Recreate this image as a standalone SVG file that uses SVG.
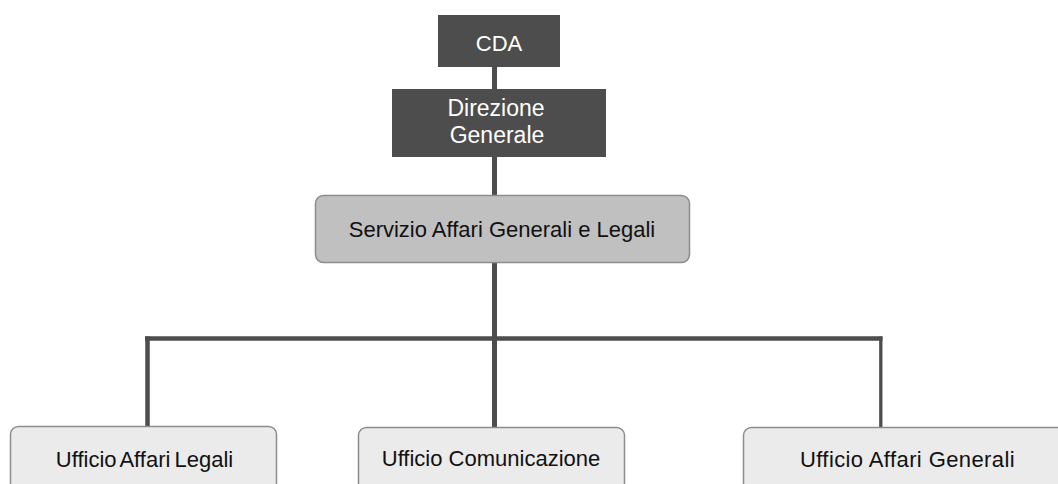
<svg xmlns="http://www.w3.org/2000/svg" width="1058" height="484" viewBox="0 0 1058 484">
  <style>
    .dark { fill: #4d4d4d; }
    .mid { fill: #c0c0c0; stroke: #8c8c8c; stroke-width: 1.5; }
    .light { fill: #ebebeb; stroke: #8c8c8c; stroke-width: 1.5; }
    .wt { fill: #ffffff; font-family: "Liberation Sans", Arial, sans-serif; text-anchor: middle; }
    .bt { fill: #111111; font-family: "Liberation Sans", Arial, sans-serif; text-anchor: middle; }
    .ln { stroke: #4d4d4d; fill: none; }
  </style>
  <rect width="1058" height="484" fill="#ffffff"/>

  <!-- connectors -->
  <g id="connectors" class="ln">
    <line x1="494.5" y1="66" x2="494.5" y2="90" stroke-width="5"/>
    <line x1="494.5" y1="156" x2="494.5" y2="196" stroke-width="5"/>
    <line x1="494.5" y1="262" x2="494.5" y2="428" stroke-width="5"/>
    <line x1="145" y1="338.5" x2="882.5" y2="338.5" stroke-width="4.5"/>
    <line x1="147.5" y1="336.5" x2="147.5" y2="427" stroke-width="4.5"/>
    <line x1="880.8" y1="336.5" x2="880.8" y2="435" stroke-width="3.3"/>
  </g>

  <!-- top level -->
  <g id="cda">
    <rect class="dark" x="438" y="15" width="122" height="52"/>
    <text class="wt" x="499" y="51" font-size="22">CDA</text>
  </g>

  <g id="direzione-generale">
    <rect class="dark" x="392" y="89" width="214" height="68"/>
    <text class="wt" x="496" y="116" font-size="23">Direzione</text>
    <text class="wt" x="497" y="143" font-size="23">Generale</text>
  </g>

  <g id="servizio-affari-generali-legali">
    <rect class="mid" x="315.5" y="195.5" width="374" height="67" rx="8"/>
    <text class="bt" x="502" y="237" font-size="22">Servizio Affari Generali e Legali</text>
  </g>

  <!-- offices -->
  <g id="ufficio-affari-legali">
    <rect class="light" x="10.5" y="426.5" width="266" height="70" rx="8"/>
    <text class="bt" x="144.5" y="467" font-size="22" word-spacing="-2">Ufficio Affari Legali</text>
  </g>

  <g id="ufficio-comunicazione">
    <rect class="light" x="358.5" y="427.5" width="266" height="70" rx="8"/>
    <text class="bt" x="491" y="466" font-size="22">Ufficio Comunicazione</text>
  </g>

  <g id="ufficio-affari-generali">
    <rect class="light" x="743.5" y="427.5" width="330" height="70" rx="8"/>
    <text class="bt" x="907.5" y="467" font-size="22" letter-spacing="0.4">Ufficio Affari Generali</text>
  </g>
</svg>
